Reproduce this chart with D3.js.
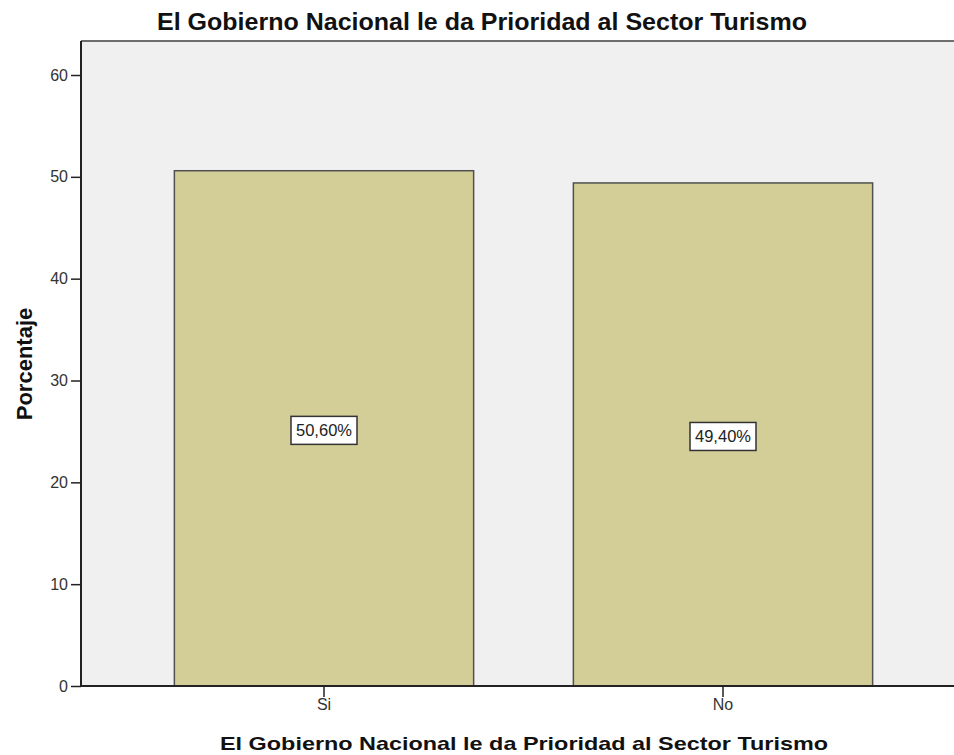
<!DOCTYPE html>
<html>
<head>
<meta charset="utf-8">
<script src="https://cdn.jsdelivr.net/npm/d3@7"></script>
<style>
  html, body { margin: 0; padding: 0; background: #fff; }
  svg { display: block; }
</style>
</head>
<body>
<svg id="chart" width="954" height="755"></svg>
<script>
// Chart data
const categories = ["Si", "No"];
const percentages = [50.6, 49.4];
const valueLabels = ["50,60%", "49,40%"];
const yTicks = [0, 10, 20, 30, 40, 50, 60];
const chartTitle = "El Gobierno Nacional le da Prioridad al Sector Turismo";
const xTitle = "El Gobierno Nacional le da Prioridad al Sector Turismo";
const yTitle = "Porcentaje";

const FONT = "Liberation Sans, Arial, Helvetica, sans-serif";
const svg = d3.select("#chart");
const plot = { left: 81, top: 41, right: 954, bottom: 686 };

const y = d3.scaleLinear().domain([0, 60]).range([686, 75]);
const x = d3.scaleBand().domain(categories).range([124.5, 922.5])
  .paddingInner(0.25).paddingOuter(0.125);

// plot background
svg.append("rect")
  .attr("x", plot.left).attr("y", plot.top)
  .attr("width", plot.right - plot.left).attr("height", plot.bottom - plot.top)
  .attr("fill", "#f0f0f0");
// top frame line
svg.append("line")
  .attr("x1", plot.left).attr("x2", plot.right)
  .attr("y1", plot.top).attr("y2", plot.top)
  .attr("stroke", "#6e6e6e").attr("stroke-width", 2);

// bars
svg.selectAll("rect.bar").data(categories).enter().append("rect")
  .attr("class", "bar")
  .attr("x", d => x(d))
  .attr("y", (d, i) => y(percentages[i]))
  .attr("width", x.bandwidth())
  .attr("height", (d, i) => y(0) - y(percentages[i]))
  .attr("fill", "#d3ce97")
  .attr("stroke", "#505050")
  .attr("stroke-width", 1.5);

// value labels in boxes at mid-height of each bar
const lab = svg.selectAll("g.vlab").data(categories).enter().append("g")
  .attr("class", "vlab")
  .attr("transform", (d, i) => `translate(${x(d) + x.bandwidth() / 2},${y(percentages[i] / 2) + 2})`);
lab.append("rect")
  .attr("x", -33).attr("y", -14).attr("width", 66).attr("height", 28)
  .attr("fill", "#fff").attr("stroke", "#333").attr("stroke-width", 1.5);
lab.append("text")
  .attr("text-anchor", "middle").attr("dy", "0.36em")
  .attr("font-family", FONT)
  .attr("font-size", 16.5).attr("fill", "#222")
  .text((d, i) => valueLabels[i]);

// y axis
const yAxis = d3.axisLeft(y).tickValues(yTicks).tickSize(10).tickPadding(3);
const gy = svg.append("g").attr("transform", `translate(${plot.left},0)`).call(yAxis);
gy.select(".domain").attr("d", `M0,${plot.top}V${plot.bottom}`)
  .attr("stroke", "#222").attr("stroke-width", 2);
gy.selectAll(".tick line").attr("stroke", "#222").attr("stroke-width", 1.5);
gy.selectAll(".tick text").attr("font-family", FONT).attr("font-size", 16).attr("fill", "#333");

// x axis
const xAxis = d3.axisBottom(x).tickSize(11).tickPadding(2);
const gx = svg.append("g").attr("transform", `translate(0,${plot.bottom})`).call(xAxis);
gx.select(".domain").attr("d", `M${plot.left},0H${plot.right}`)
  .attr("stroke", "#222").attr("stroke-width", 2);
gx.selectAll(".tick line").attr("stroke", "#222").attr("stroke-width", 1.5);
gx.selectAll(".tick text").attr("font-family", FONT).attr("font-size", 16).attr("fill", "#333");

// chart title
svg.append("text")
  .attr("x", 157).attr("y", 30)
  .attr("font-family", FONT)
  .attr("font-weight", "bold").attr("font-size", 24).attr("fill", "#111")
  .attr("textLength", 650).attr("lengthAdjust", "spacingAndGlyphs")
  .text(chartTitle);

// x axis title
svg.append("text")
  .attr("x", 220).attr("y", 750)
  .attr("font-family", FONT)
  .attr("font-weight", "bold").attr("font-size", 19).attr("fill", "#111")
  .attr("textLength", 608).attr("lengthAdjust", "spacingAndGlyphs")
  .text(xTitle);

// y axis title
svg.append("text")
  .attr("transform", "translate(31.5,364) rotate(-90)")
  .attr("text-anchor", "middle")
  .attr("font-family", FONT)
  .attr("font-weight", "bold").attr("font-size", 22).attr("fill", "#111")
  .text(yTitle);
</script>
</body>
</html>
